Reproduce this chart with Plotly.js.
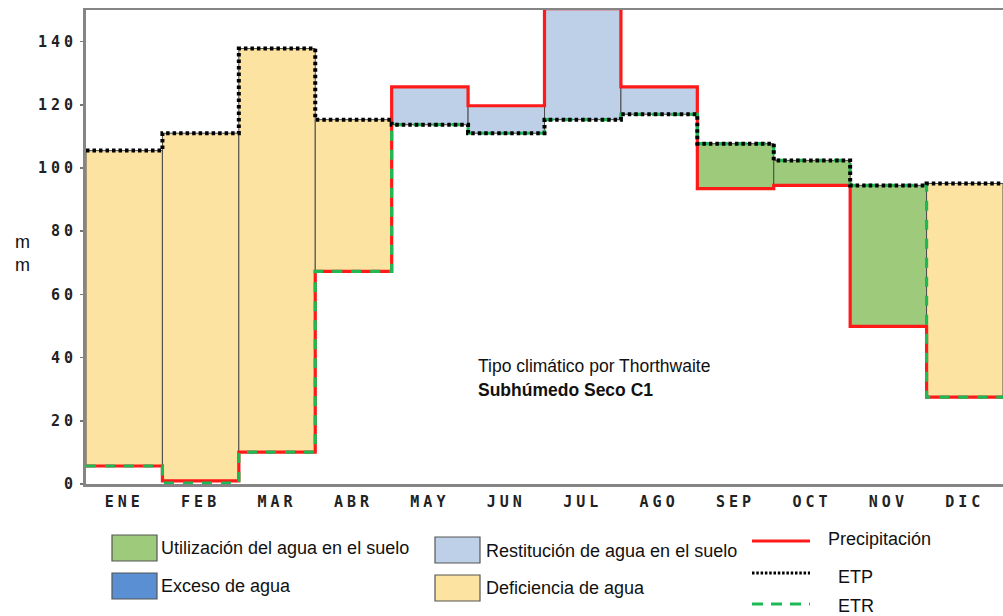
<!DOCTYPE html>
<html>
<head>
<meta charset="utf-8">
<script src="https://cdn.plot.ly/plotly-3.0.1.min.js"></script>
<style>
html,body{margin:0;padding:0;background:#fff;}
#chart{width:1003px;height:616px;}
.xtick text{letter-spacing:4px;}
.ytick text{letter-spacing:4px;}
</style>
</head>
<body>
<div id="chart"></div>
<script>
// ---- data ----
const months = ['ENE','FEB','MAR','ABR','MAY','JUN','JUL','AGO','SEP','OCT','NOV','DIC'];
const precip = [5.7, 1.0, 10.1, 67.3, 125.7, 119.7, 150.4, 125.7, 93.5, 94.5, 49.9, 27.5];
const etp    = [105.5, 111.0, 137.8, 115.3, 113.7, 111.0, 115.3, 117.0, 107.7, 102.4, 94.5, 95.1];
const etr    = [5.7, 0.3, 10.1, 67.3, 113.7, 111.0, 115.3, 117.0, 107.7, 102.4, 94.5, 27.5];
const balance = ['def','def','def','def','rest','rest','rest','rest','util','util','util','def'];
const yTicks = [0, 20, 40, 60, 80, 100, 120, 140];

const categories = {
  util: {name:'Utilización del agua en el suelo', color:'#9DCB7B'},
  exc:  {name:'Exceso de agua', color:'#5A8FD3'},
  rest: {name:'Restitución de agua en el suelo', color:'#BDD0E7'},
  def:  {name:'Deficiencia de agua', color:'#FCE3A2'}
};

// ---- geometry helpers ----
const W = 1003, H = 616;
const M = {l:86, r:0, t:10, b:132};
const px = x => (x - M.l) / (W - M.l - M.r);
const py = y => (H - M.b - y) / (H - M.t - M.b);

const xIdx = months.map((m,i)=>i);

// bars
const traces = [];
Object.keys(categories).forEach(key=>{
  const xs=[], bases=[], hs=[];
  balance.forEach((b,i)=>{
    if(b===key){
      xs.push(i);
      bases.push(Math.min(precip[i], etp[i]));
      hs.push(Math.abs(precip[i]-etp[i]));
    }
  });
  if(xs.length){
    traces.push({type:'bar', x:xs, y:hs, base:bases, width:1,
      marker:{color:categories[key].color, line:{color:'#4a4a4a', width:1}},
      hoverinfo:'skip', showlegend:false});
  }
});

function steps(vals){
  const xs=[], ys=[];
  vals.forEach((v,i)=>{ xs.push(i-0.5, i+0.5); ys.push(v, v); });
  return {x:xs, y:ys};
}
const sp = steps(precip), sr = steps(etr), se = steps(etp);
traces.push({type:'scatter', mode:'lines', x:sp.x, y:sp.y, line:{color:'#FF1a1a', width:3.2}, cliponaxis:false, showlegend:false, hoverinfo:'skip'});
traces.push({type:'scatter', mode:'lines', x:sr.x, y:sr.y, line:{color:'#1DB954', width:3.2, dash:'10px,9px'}, cliponaxis:false, showlegend:false, hoverinfo:'skip'});
traces.push({type:'scatter', mode:'lines', x:se.x, y:se.y, line:{color:'#000000', width:4, dash:'3.5px,3px'}, cliponaxis:false, showlegend:false, hoverinfo:'skip'});

// legend shapes + annotations
const shapes = [];
const annotations = [];
function box(x0,y0,x1,y1,color){
  shapes.push({type:'rect', xref:'paper', yref:'paper', x0:px(x0), x1:px(x1), y0:py(y1), y1:py(y0),
    fillcolor:color, line:{color:'#555', width:1.2}});
}
function text(x,y,t,opts){
  annotations.push(Object.assign({xref:'paper', yref:'paper', x:px(x), y:py(y), text:t, showarrow:false,
    xanchor:'left', yanchor:'middle', font:{family:'Liberation Sans, Arial', size:18, color:'#111'}}, opts||{}));
}
box(112,535,157,561,categories.util.color); text(159,548,categories.util.name);
box(112,573,157,599,categories.exc.color);  text(159,586,categories.exc.name);
box(435,537,480,563,categories.rest.color); text(484,551,categories.rest.name);
box(435,575,480,601,categories.def.color);  text(484,588,categories.def.name);

function legLine(y,color,dash,width){
  shapes.push({type:'line', xref:'paper', yref:'paper', x0:px(752), x1:px(810), y0:py(y), y1:py(y),
    line:{color:color, width:width, dash:dash}});
}
legLine(541,'#FF1a1a','solid',3);   text(826,539,'Precipitación');
legLine(573,'#000','2.5px,1.8px',3); text(836,577,'ETP');
legLine(604,'#1DB954','11px,8px',3); text(836,606,'ETR');

// y label
text(22,254,'m<br>m',{xanchor:'center', font:{family:'Liberation Sans, Arial', size:18, color:'#111'}});

// inner annotation
text(476,366,'Tipo climático por Thorthwaite',{font:{family:'Liberation Sans, Arial', size:17.5, color:'#111'}});
text(476,390,'<b>Subhúmedo Seco C1</b>',{font:{family:'Liberation Sans, Arial', size:17.5, color:'#111'}});

const layout = {
  width:W, height:H, margin:M,
  paper_bgcolor:'#fff', plot_bgcolor:'#fff',
  barmode:'overlay', bargap:0,
  showlegend:false,
  xaxis:{range:[-0.5,11.5], tickmode:'array', tickvals:xIdx, ticktext:months,
    showgrid:false, zeroline:false, showline:true, linecolor:'#858585', linewidth:2.5, mirror:true,
    ticks:'', ticklabelstandoff:2,
    tickfont:{family:'DejaVu Sans Mono', size:15, color:'#222', weight:'bold'}},
  yaxis:{range:[0,150], tickmode:'array', tickvals:yTicks, ticktext:yTicks.map(String),
    showgrid:false, zeroline:false, showline:true, linecolor:'#858585', linewidth:3,
    ticks:'outside', ticklen:3, tickcolor:'#777', tickwidth:1.5, ticklabelstandoff:0,
    tickfont:{family:'DejaVu Sans Mono', size:15, color:'#222', weight:'bold'}},
  shapes:shapes, annotations:annotations
};

Plotly.newPlot('chart', traces, layout, {displayModeBar:false, staticPlot:true});
</script>
</body>
</html>
